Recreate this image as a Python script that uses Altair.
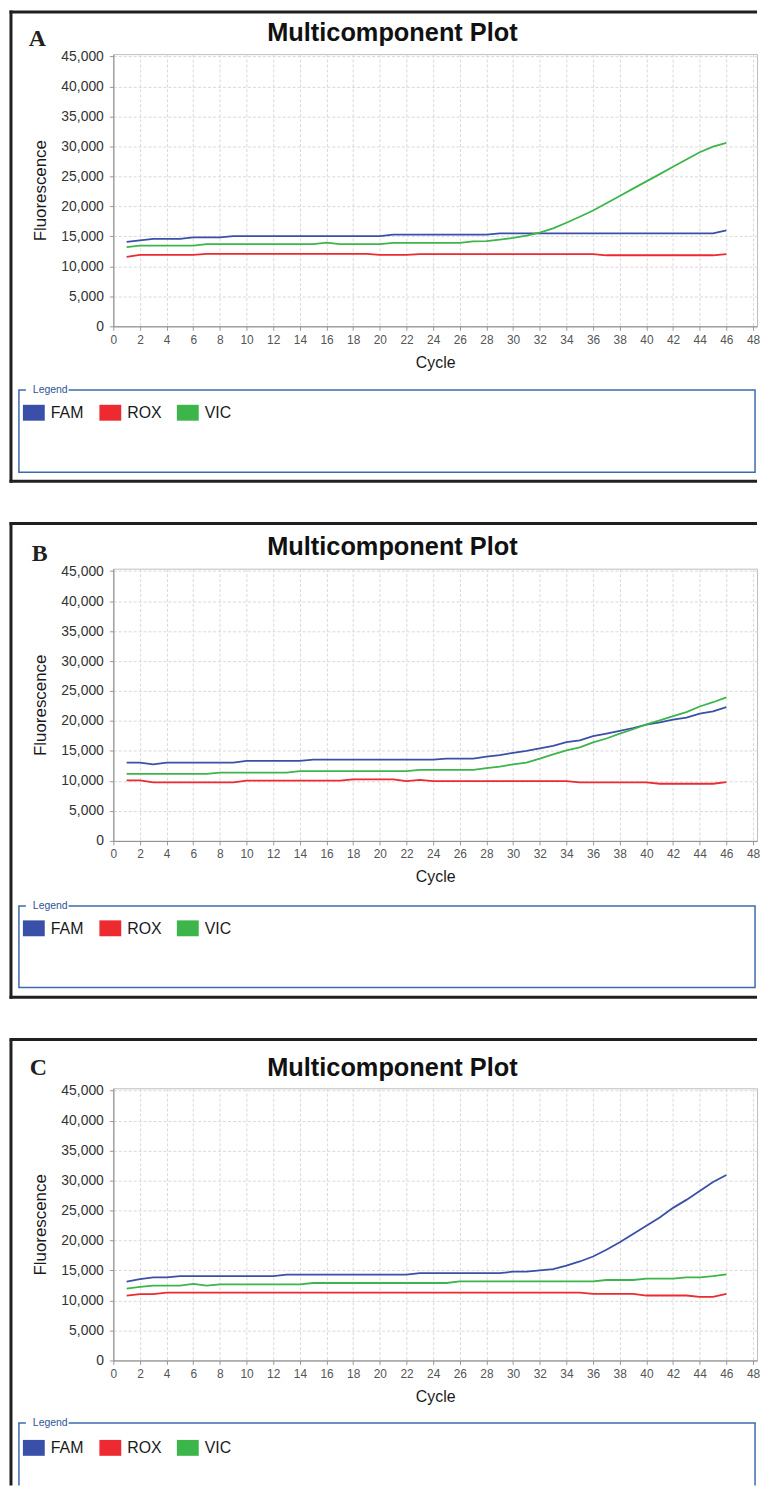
import altair as alt
import pandas as pd

# ---------------- data ----------------
CYCLES = list(range(1, 47))
DYES = ["FAM", "ROX", "VIC"]
DYE_COLORS = ["#3a50a8", "#ec2a30", "#3cb54a"]
X_TICKS = list(range(0, 50, 2))
Y_TICKS = list(range(0, 45001, 5000))
TITLE = "Multicomponent Plot"

A_FAM = [14100, 14350, 14600, 14600, 14600, 14850, 14850, 14850] + [15050] * 12 + [15300] * 8 + [15500] * 17 + [16000]
A_ROX = [11600] + [11900] * 5 + [12100] * 13 + [11900] * 3 + [12050] * 14 + [11850] * 9 + [12050]
A_VIC = ([13200] + [13450] * 5 + [13700] * 9 + [13950] + [13700] * 4 + [13900] * 6 +
         [14150, 14200, 14450, 14740, 15120, 15620, 16340, 17280, 18270, 19320,
          20530, 21750, 22960, 24180, 25390, 26600, 27820, 29030, 29970, 30580])

B_FAM = ([13050, 13050, 12750] + [13050] * 6 + [13350] * 5 + [13550] * 10 + [13710] * 3 +
         [14040, 14320, 14700, 15030, 15430, 15860, 16470, 16750, 17460, 17900,
          18340, 18830, 19390, 19770, 20220, 20550, 21210, 21590, 22300])
B_ROX = [10080, 10080] + [9750] * 7 + [10050] * 8 + [10250] * 4 + [9970, 10190] + [9970] * 11 + [9750] * 6 + [9530] * 5 + [9800]
B_VIC = ([11180] * 7 + [11400] * 6 + [11650] * 9 + [11850] * 5 +
         [12120, 12390, 12780, 13050, 13710, 14440, 15100, 15590, 16420, 17080,
          17900, 18620, 19440, 20100, 20810, 21480, 22420, 23130, 23950])

C_FAM = ([13150, 13580, 13860, 13860] + [14080] * 8 + [14300] * 10 + [14580] * 7 +
         [14800, 14800, 15020, 15240, 15800, 16510, 17340, 18450, 19710, 21100,
          22470, 23850, 25450, 26780, 28270, 29760, 30920])
C_ROX = [10830, 11050, 11050] + [11330] * 32 + [11100] * 4 + [10830] * 4 + [10600, 10600, 11100]
C_VIC = ([11990, 12260] + [12490] * 3 + [12760, 12490] + [12700] * 7 + [12920] * 11 +
         [13200] * 11 + [13420] * 3 + [13650] * 3 + [13860] * 2 + [14080, 14360])

PANEL_DATA = {
    "A": [A_FAM, A_ROX, A_VIC],
    "B": [B_FAM, B_ROX, B_VIC],
    "C": [C_FAM, C_ROX, C_VIC],
}

# ---------------- styling / layout ----------------
FONT = "Liberation Sans"
W, H = 648, 274
BORDER = "#231f20"
BOX = "#3d6aad"
LEGEND_ITEM_X = [-91, -14, 64]      # left edge of each legend swatch (layout)
FRAME_L, FRAME_R = -103, 646.5
BOX_L, BOX_R = -95, 646

LAYOUT = {
    "A": dict(top=-42.5, bottom=430, closed=True, letter=(-85, -8), title_y=-13, box=(338, 421), leg_c=361),
    "B": dict(top=-45.5, bottom=431.5, closed=True, letter=(-82, -7.5), title_y=-13.5, box=(339.5, 421.5), leg_c=362),
    "C": dict(top=-49, bottom=400, closed=False, letter=(-84, -13), title_y=-12, box=(337, 400), leg_c=362),
}

color_scale = alt.Scale(domain=DYES, range=DYE_COLORS)
ONE = pd.DataFrame({"k": [0]})


def make_df(series):
    rows = []
    for dye, vals in zip(DYES, series):
        for c, v in zip(CYCLES, vals):
            rows.append({"cycle": c, "value": v, "dye": dye})
    return pd.DataFrame(rows)


def hrule(x1, x2, y, color, sw, cap="square"):
    return alt.Chart(ONE).mark_rule(color=color, strokeWidth=sw, strokeCap=cap).encode(
        x=alt.value(x1), x2=alt.value(x2), y=alt.value(y))


def vrule(x, y1, y2, color, sw, cap="square"):
    return alt.Chart(ONE).mark_rule(color=color, strokeWidth=sw, strokeCap=cap).encode(
        x=alt.value(x), y=alt.value(y1), y2=alt.value(y2))


def panel(letter):
    L = LAYOUT[letter]
    df = make_df(PANEL_DATA[letter])

    x_axis = alt.Axis(values=X_TICKS, format="d", title="Cycle",
                      labelFont=FONT, labelFontSize=12, labelColor="#555555", labelPadding=4,
                      labelFlush=False, labelOverlap=False,
                      tickSize=4, tickColor="#999999", domainColor="#8c8c8c",
                      grid=True, gridColor="#d9d9d9", gridDash=[3, 2],
                      titleFont=FONT, titleFontSize=16, titleFontWeight="normal", titleColor="#1a1a1a",
                      titleX=W / 2, titleY=41, titleAlign="center", titleBaseline="alphabetic")
    y_axis = alt.Axis(values=Y_TICKS, format=",d", title="Fluorescence",
                      labelFont=FONT, labelFontSize=14, labelColor="#333333", labelPadding=6,
                      labelFlush=False, labelOverlap=False,
                      tickSize=4, tickColor="#999999", domainColor="#8c8c8c",
                      grid=True, gridColor="#d9d9d9", gridDash=[3, 2],
                      titleFont=FONT, titleFontSize=17, titleFontWeight="normal", titleColor="#1a1a1a",
                      titleX=-68, titleY=H / 2, titleAngle=270, titleAlign="center",
                      titleBaseline="alphabetic")

    lines = alt.Chart(df).mark_line(strokeWidth=1.8).encode(
        x=alt.X("cycle:Q", scale=alt.Scale(domain=[0, 48.3], nice=False, zero=False), axis=x_axis),
        y=alt.Y("value:Q", scale=alt.Scale(domain=[0, 45400], nice=False), axis=y_axis),
        color=alt.Color("dye:N", scale=color_scale, legend=None),
    )

    layers = [lines]

    # outer frame
    layers.append(hrule(FRAME_L, FRAME_R, L["top"], BORDER, 3))
    layers.append(vrule(FRAME_L, L["top"], L["bottom"], BORDER, 3, "square" if L["closed"] else "butt"))
    if L["closed"]:
        layers.append(hrule(FRAME_L, FRAME_R, L["bottom"], BORDER, 3))

    # panel letter and title
    lx, ly = L["letter"]
    layers.append(alt.Chart(ONE).mark_text(text=letter, font="Liberation Serif", fontWeight="bold",
                                           fontSize=24, align="left", baseline="alphabetic",
                                           color="#231f20").encode(x=alt.value(lx), y=alt.value(ly)))
    layers.append(alt.Chart(ONE).mark_text(text=TITLE, font=FONT, fontWeight="bold", fontSize=25.5,
                                           align="center", baseline="alphabetic",
                                           color="#111111").encode(x=alt.value(281), y=alt.value(L["title_y"])))

    # legend box
    bt, bb = L["box"]
    if L["closed"]:
        layers.append(alt.Chart(ONE).mark_rect(fillOpacity=0, stroke=BOX, strokeWidth=1.5).encode(
            x=alt.value(BOX_L), x2=alt.value(BOX_R), y=alt.value(bt), y2=alt.value(bb)))
    else:
        layers.append(hrule(BOX_L, BOX_R, bt, BOX, 1.5))
        layers.append(vrule(BOX_L, bt, bb, BOX, 1.5, "butt"))
        layers.append(vrule(BOX_R, bt, bb, BOX, 1.5, "butt"))
    layers.append(alt.Chart(ONE).mark_rect(color="white").encode(
        x=alt.value(-88), x2=alt.value(-45), y=alt.value(bt - 5), y2=alt.value(bt + 5)))
    layers.append(alt.Chart(ONE).mark_text(text="Legend", font=FONT, fontSize=10.5, color="#2f5597",
                                           align="left", baseline="middle").encode(
        x=alt.value(-81), y=alt.value(bt)))

    # legend entries: one swatch + label per dye, coloured through the shared scale
    lc = L["leg_c"]
    for dye, lxi in zip(DYES, LEGEND_ITEM_X):
        item = pd.DataFrame({"dye": [dye]})
        layers.append(alt.Chart(item).mark_rect().encode(
            x=alt.value(lxi), x2=alt.value(lxi + 22), y=alt.value(lc - 8), y2=alt.value(lc + 8),
            color=alt.Color("dye:N", scale=color_scale, legend=None)))
        layers.append(alt.Chart(item).mark_text(font=FONT, fontSize=16, color="#1a1a1a",
                                                align="left", baseline="middle").encode(
            x=alt.value(lxi + 28), y=alt.value(lc + 0.5), text="dye:N"))

    return alt.layer(*layers).properties(width=W, height=H)


chart = alt.vconcat(panel("A"), panel("B"), panel("C"), spacing=36).properties(
    padding={"top": -4.5, "left": 0, "right": 0, "bottom": 0}, background="white"
).configure_view(stroke="#bdbdbd", strokeWidth=1)

chart.save("out.html", embed_options={"renderer": "svg", "actions": False})
